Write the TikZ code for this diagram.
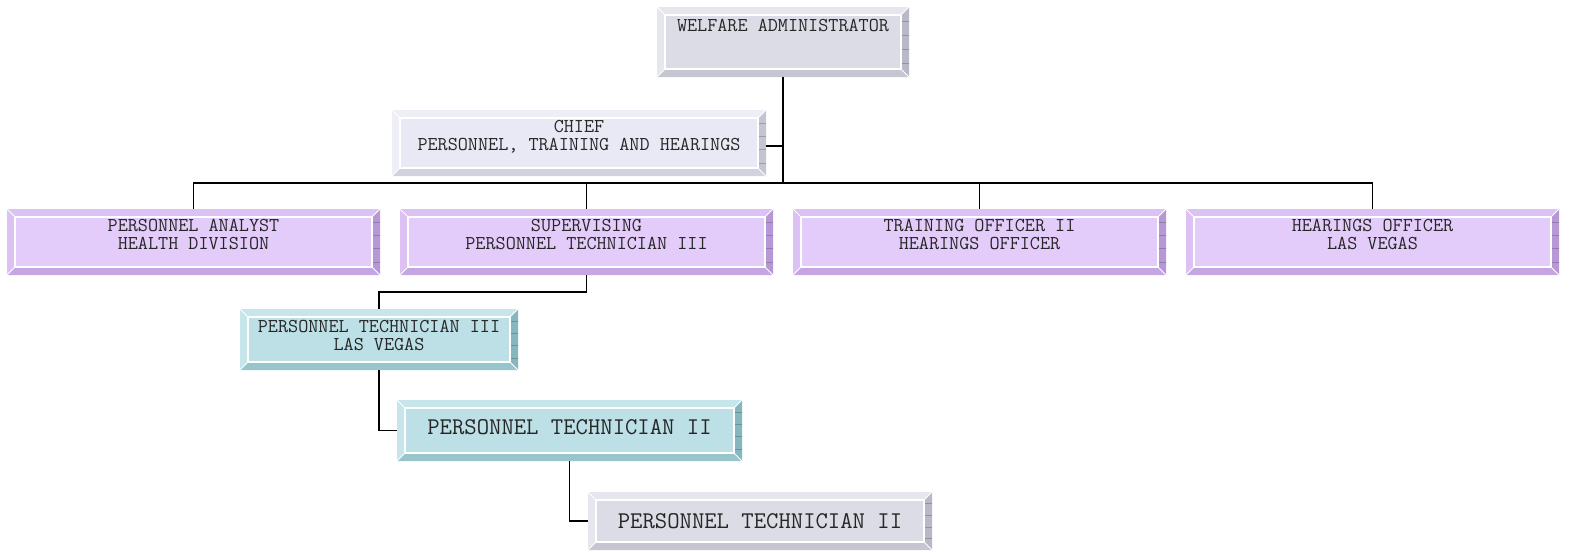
\documentclass[tikz,border=0pt]{standalone}
\usepackage{fontspec}
\usetikzlibrary{calc}
\definecolor{grayface}{HTML}{DCDCE6}
\definecolor{graylight}{HTML}{E6E6EF}
\definecolor{graydark}{HTML}{B8B8C8}
\definecolor{graybot}{HTML}{C6C6D2}
\definecolor{chiefface}{HTML}{E9E9F5}
\definecolor{chieflight}{HTML}{EEEEF7}
\definecolor{chiefdark}{HTML}{C4C4D2}
\definecolor{chiefbot}{HTML}{D2D2DE}
\definecolor{purpface}{HTML}{E4CCFA}
\definecolor{purplight}{HTML}{DCC2F4}
\definecolor{purpdark}{HTML}{B698D6}
\definecolor{purpbot}{HTML}{C6A6E2}
\definecolor{tealface}{HTML}{BCE0E6}
\definecolor{teallight}{HTML}{C6E6EB}
\definecolor{tealdark}{HTML}{86B6BE}
\definecolor{tealbot}{HTML}{98C4CC}
\newcommand\bevelbox[4]{%
  \fill[#2] (#1.north west) -- (#1.north east) -- ($(#1.north east)+(-8,8)$) -- ($(#1.north west)+(8,8)$) -- cycle;
  \fill[#2] (#1.north west) -- ($(#1.north west)+(8,8)$) -- ($(#1.south west)+(8,-8)$) -- (#1.south west) -- cycle;
  \fill[#3] (#1.north east) -- (#1.south east) -- ($(#1.south east)+(-8,-8)$) -- ($(#1.north east)+(-8,8)$) -- cycle;
  \fill[#4] (#1.south west) -- ($(#1.south west)+(8,-8)$) -- ($(#1.south east)+(-8,-8)$) -- (#1.south east) -- cycle;
  \foreach \f in {0.2,0.4,0.6,0.8}{
    \draw[#3!80!black, line width=0.5pt] ($(#1.north east)!\f!(#1.south east)$) -- ++(-8,0);}
  \draw[white, line width=1.2pt] ($(#1.north west)+(8,8)$) rectangle ($(#1.south east)+(-8,-8)$);
  \draw[white, line width=1pt] (#1.north west) -- ++(8,8) (#1.north east) -- ++(-8,8)
     (#1.south west) -- ++(8,-8) (#1.south east) -- ++(-8,-8);
}
\tikzset{
  obox/.style={rectangle, inner sep=0pt, outer sep=0pt, align=center,
    font=\ttfamily\fontsize{19.6}{18}\selectfont, text=black!85},
  rowbox/.style={obox, fill=purpface, minimum width=373pt, minimum height=66pt, text depth=15pt},
  conn/.style={line width=1.9pt, black}
}
\begin{document}
\begin{tikzpicture}[x=1pt,y=-1pt]
\useasboundingbox (0,0) rectangle (1572,552);
\node[obox, fill=grayface, minimum width=252pt, minimum height=70pt, text depth=34pt] (admin) at (783,42) {WELFARE ADMINISTRATOR};
\node[obox, fill=chiefface, minimum width=374pt, minimum height=66pt, text depth=15pt] (chief) at (579,143) {CHIEF\\PERSONNEL, TRAINING AND HEARINGS};
\node[rowbox] (r1) at (193.5,242) {PERSONNEL ANALYST\\HEALTH DIVISION};
\node[rowbox] (r2) at (586.5,242) {SUPERVISING\\PERSONNEL TECHNICIAN III};
\node[rowbox] (r3) at (979.5,242) {TRAINING OFFICER II\\HEARINGS OFFICER};
\node[rowbox] (r4) at (1372.5,242) {HEARINGS OFFICER\\LAS VEGAS};
\node[obox, fill=tealface, minimum width=278pt, minimum height=61pt, text depth=9pt] (pt3) at (379,339.5) {PERSONNEL TECHNICIAN III\\LAS VEGAS};
\node[obox, fill=tealface, minimum width=345pt, minimum height=61pt, font=\ttfamily\fontsize{24}{22}\selectfont, text depth=7pt] (pt2) at (569.5,430.5) {PERSONNEL TECHNICIAN II};
\node[obox, fill=grayface, minimum width=344pt, minimum height=58pt, font=\ttfamily\fontsize{24}{22}\selectfont] (pt2b) at (760,521) {PERSONNEL TECHNICIAN II};

\bevelbox{admin}{graylight}{graydark}{graybot}
\bevelbox{chief}{chieflight}{chiefdark}{chiefbot}
\foreach \n in {r1,r2,r3,r4}{\bevelbox{\n}{purplight}{purpdark}{purpbot}}
\bevelbox{pt3}{teallight}{tealdark}{tealbot}
\bevelbox{pt2}{teallight}{tealdark}{tealbot}
\bevelbox{pt2b}{graylight}{graydark}{graybot}

\coordinate (bus) at (783,183);
\coordinate (chiefj) at (783,146);
\draw[conn] (admin.south) -- (bus);
\draw[conn] ($(chief.east)+(0,3)$) -- (chiefj);
\foreach \n in {r1,r2,r3,r4}{\draw[conn] (\n.north) |- (bus);}
\draw[conn] (r2.south) -- ++(0,17) -| (pt3.north);
\draw[conn] (pt3.south) |- (pt2.west);
\draw[conn] (pt2.south) |- (pt2b.west);
\end{tikzpicture}
\end{document}
